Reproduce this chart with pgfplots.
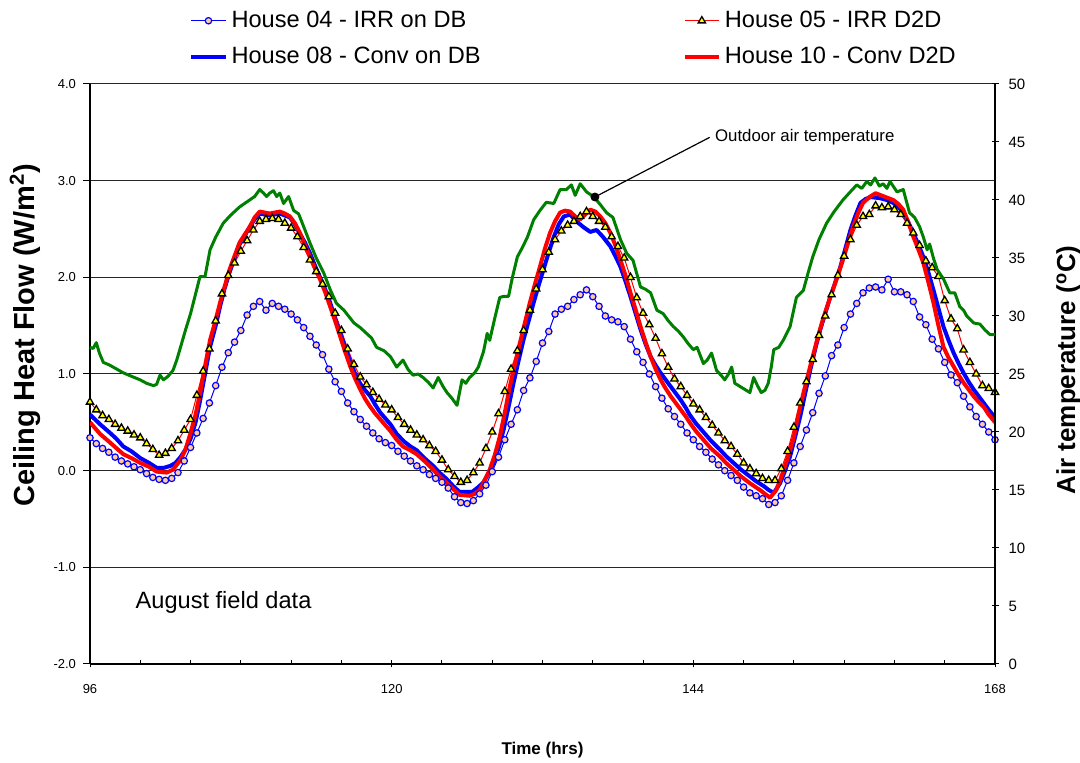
\documentclass[border=0pt]{standalone}
\usepackage{pgfplots}
\pgfplotsset{compat=1.18}
\usepackage{pgfplotstable}
\usepackage{fontspec}
\setmainfont{Liberation Sans}
\definecolor{hblue}{RGB}{0,0,255}
\definecolor{hred}{RGB}{255,0,0}
\definecolor{hgreen}{RGB}{0,128,0}
\definecolor{peach}{RGB}{255,204,153}
\definecolor{tyellow}{RGB}{255,255,0}

% House 04 (circles) and House 05 (triangles), half-hourly
\pgfplotstableread{
t h04 h05
96.0 0.34 0.71
96.5 0.28 0.63
97.0 0.23 0.57
97.5 0.19 0.53
98.0 0.14 0.48
98.5 0.10 0.44
99.0 0.07 0.41
99.5 0.04 0.37
100.0 0.01 0.34
100.5 -0.03 0.28
101.0 -0.07 0.22
101.5 -0.09 0.16
102.0 -0.10 0.18
102.5 -0.08 0.23
103.0 -0.02 0.31
103.5 0.10 0.42
104.0 0.24 0.53
104.5 0.39 0.78
105.0 0.54 1.03
105.5 0.70 1.26
106.0 0.88 1.55
106.5 1.07 1.83
107.0 1.22 2.02
107.5 1.33 2.15
108.0 1.45 2.27
108.5 1.61 2.38
109.0 1.70 2.49
109.5 1.75 2.58
110.0 1.66 2.60
110.5 1.73 2.61
111.0 1.70 2.60
111.5 1.67 2.56
112.0 1.62 2.51
112.5 1.56 2.42
113.0 1.48 2.31
113.5 1.39 2.18
114.0 1.30 2.06
114.5 1.20 1.93
115.0 1.05 1.80
115.5 0.92 1.63
116.0 0.82 1.45
116.5 0.70 1.26
117.0 0.61 1.10
117.5 0.53 0.97
118.0 0.46 0.89
118.5 0.39 0.81
119.0 0.33 0.74
119.5 0.29 0.68
120.0 0.26 0.63
120.5 0.20 0.55
121.0 0.15 0.48
121.5 0.10 0.42
122.0 0.05 0.37
122.5 0.01 0.32
123.0 -0.04 0.26
123.5 -0.08 0.20
124.0 -0.12 0.11
124.5 -0.18 0.01
125.0 -0.27 -0.06
125.5 -0.33 -0.12
126.0 -0.34 -0.10
126.5 -0.31 -0.02
127.0 -0.24 0.08
127.5 -0.15 0.23
128.0 -0.01 0.40
128.5 0.14 0.59
129.0 0.32 0.82
129.5 0.48 1.05
130.0 0.63 1.24
130.5 0.83 1.45
131.0 0.96 1.66
131.5 1.13 1.88
132.0 1.32 2.08
132.5 1.44 2.26
133.0 1.62 2.39
133.5 1.67 2.48
134.0 1.70 2.54
134.5 1.77 2.58
135.0 1.82 2.63
135.5 1.87 2.68
136.0 1.80 2.63
136.5 1.70 2.58
137.0 1.60 2.52
137.5 1.56 2.42
138.0 1.54 2.32
138.5 1.49 2.20
139.0 1.36 2.00
139.5 1.23 1.79
140.0 1.12 1.63
140.5 1.00 1.51
141.0 0.87 1.37
141.5 0.75 1.21
142.0 0.64 1.07
142.5 0.56 0.95
143.0 0.48 0.87
143.5 0.39 0.78
144.0 0.32 0.69
144.5 0.25 0.63
145.0 0.19 0.55
145.5 0.12 0.47
146.0 0.06 0.39
146.5 0.00 0.31
147.0 -0.05 0.25
147.5 -0.10 0.17
148.0 -0.17 0.08
148.5 -0.23 0.02
149.0 -0.26 -0.03
149.5 -0.29 -0.08
150.0 -0.35 -0.10
150.5 -0.33 -0.10
151.0 -0.26 0.02
151.5 -0.10 0.20
152.0 0.08 0.45
152.5 0.25 0.70
153.0 0.42 0.92
153.5 0.60 1.15
154.0 0.80 1.40
154.5 0.98 1.60
155.0 1.19 1.82
155.5 1.30 2.02
156.0 1.48 2.22
156.5 1.62 2.39
157.0 1.73 2.54
157.5 1.84 2.63
158.0 1.89 2.65
158.5 1.90 2.74
159.0 1.87 2.72
159.5 1.98 2.73
160.0 1.85 2.70
160.5 1.85 2.65
161.0 1.82 2.56
161.5 1.75 2.46
162.0 1.59 2.33
162.5 1.51 2.17
163.0 1.36 2.10
163.5 1.26 2.01
164.0 1.12 1.76
164.5 0.99 1.57
165.0 0.91 1.47
165.5 0.77 1.25
166.0 0.66 1.12
166.5 0.56 1.00
167.0 0.48 0.88
167.5 0.40 0.85
168.0 0.32 0.81
}\markdata

% House 08 - Conv on DB
\pgfplotstableread{
t v
96.0 0.58
96.8 0.48
97.6 0.39
98.1 0.33
98.65 0.25
99.3 0.20
100.0 0.13
100.7 0.08
101.3 0.03
101.9 0.03
102.4 0.05
102.8 0.08
103.2 0.14
103.6 0.22
104.0 0.33
104.4 0.50
104.75 0.72
105.15 1.00
105.55 1.28
106.0 1.50
106.35 1.70
106.7 1.88
107.1 2.05
107.5 2.20
107.9 2.34
108.3 2.43
108.7 2.52
109.1 2.60
109.5 2.66
110.3 2.64
111.1 2.66
111.5 2.64
111.9 2.62
112.3 2.55
112.7 2.45
113.1 2.36
113.5 2.25
113.9 2.12
114.3 2.00
114.7 1.88
115.1 1.74
115.5 1.57
115.9 1.42
116.3 1.28
116.7 1.13
117.1 1.00
117.5 0.90
117.9 0.83
118.3 0.77
118.7 0.68
119.1 0.60
119.5 0.54
119.9 0.48
120.4 0.38
121.0 0.30
121.5 0.25
122.0 0.21
122.6 0.13
123.3 0.05
123.8 -0.02
124.4 -0.09
124.9 -0.16
125.4 -0.22
126.4 -0.22
126.9 -0.17
127.3 -0.12
127.7 -0.03
128.1 0.08
128.5 0.23
128.9 0.42
129.3 0.66
129.7 0.91
130.1 1.14
130.5 1.36
130.9 1.55
131.3 1.74
131.7 1.92
132.1 2.09
132.5 2.26
132.9 2.42
133.3 2.55
133.7 2.63
134.2 2.65
134.7 2.58
135.25 2.52
135.8 2.47
136.3 2.49
136.8 2.42
137.4 2.32
137.8 2.22
138.2 2.11
138.6 1.96
139.0 1.80
139.4 1.63
139.8 1.46
140.2 1.31
140.6 1.18
141.0 1.09
141.4 1.01
141.8 0.94
142.2 0.87
142.6 0.80
143.0 0.73
143.4 0.65
143.7 0.58
144.2 0.49
144.8 0.40
145.4 0.31
146.1 0.22
146.6 0.15
147.2 0.08
147.8 0.01
148.5 -0.06
149.0 -0.11
149.6 -0.16
150.0 -0.20
150.4 -0.23
150.9 -0.13
151.3 0.00
151.7 0.15
152.1 0.35
152.5 0.56
152.9 0.80
153.3 1.04
153.7 1.26
154.1 1.46
154.5 1.63
154.9 1.80
155.3 1.95
155.7 2.11
156.1 2.30
156.5 2.49
156.9 2.64
157.3 2.77
157.7 2.81
158.1 2.83
158.8 2.82
159.4 2.80
159.9 2.77
160.3 2.73
160.7 2.67
161.1 2.57
161.5 2.46
161.9 2.34
162.3 2.21
162.7 2.05
163.1 1.87
163.5 1.68
163.9 1.49
164.3 1.35
164.7 1.22
165.1 1.11
165.5 1.01
165.9 0.92
166.3 0.84
166.7 0.77
167.1 0.70
167.5 0.63
168.0 0.55
}\height

% House 10 - Conv D2D
\pgfplotstableread{
t v
96.0 0.50
96.8 0.38
97.6 0.29
98.65 0.17
99.3 0.13
100.0 0.08
100.7 0.04
101.3 -0.01
102.1 -0.02
102.6 0.01
103.2 0.11
103.6 0.22
104.0 0.39
104.4 0.58
104.75 0.80
105.15 1.08
105.55 1.35
106.0 1.56
106.35 1.74
107.1 2.08
107.5 2.22
107.9 2.36
108.3 2.44
108.7 2.52
109.1 2.62
109.5 2.68
110.3 2.66
111.1 2.68
111.5 2.66
111.9 2.63
112.3 2.56
112.7 2.46
113.1 2.33
113.5 2.21
113.9 2.09
114.3 1.98
114.7 1.85
115.1 1.70
115.5 1.55
115.9 1.39
116.3 1.23
116.7 1.08
117.1 0.95
117.5 0.84
117.9 0.74
118.3 0.66
118.7 0.59
119.1 0.53
119.5 0.47
119.9 0.41
120.4 0.32
120.9 0.25
121.5 0.21
122.0 0.17
122.6 0.10
123.3 0.01
123.8 -0.06
124.4 -0.13
124.9 -0.19
125.4 -0.25
126.2 -0.26
126.6 -0.24
127.0 -0.20
127.4 -0.10
127.8 0.01
128.2 0.16
128.6 0.35
129.0 0.60
129.4 0.87
129.8 1.10
130.2 1.32
130.6 1.53
131.0 1.74
131.4 1.93
131.8 2.11
132.2 2.30
132.6 2.46
133.0 2.58
133.4 2.67
133.8 2.69
134.2 2.68
134.6 2.63
135.0 2.60
135.4 2.65
135.8 2.70
136.2 2.68
136.6 2.63
137.0 2.56
137.4 2.46
137.8 2.33
138.2 2.18
138.6 2.02
139.0 1.84
139.4 1.67
139.8 1.49
140.2 1.33
140.6 1.18
141.0 1.05
141.4 0.94
141.8 0.85
142.2 0.77
142.6 0.70
143.0 0.63
143.4 0.56
143.7 0.50
144.2 0.41
144.8 0.32
145.4 0.23
146.1 0.15
146.6 0.08
147.2 0.01
147.8 -0.06
148.5 -0.13
149.3 -0.20
149.7 -0.24
150.1 -0.28
150.6 -0.20
150.9 -0.10
151.2 0.01
151.6 0.17
152.0 0.35
152.3 0.55
152.7 0.77
153.1 0.98
153.5 1.18
153.9 1.38
154.3 1.56
154.7 1.72
155.1 1.87
155.5 2.02
155.9 2.18
156.3 2.35
156.7 2.52
157.1 2.66
157.5 2.77
158.0 2.83
158.5 2.87
159.1 2.84
159.5 2.82
159.9 2.80
160.3 2.76
160.7 2.70
161.1 2.57
161.5 2.42
161.9 2.29
162.3 2.15
162.7 1.95
163.1 1.74
163.5 1.50
163.9 1.28
164.3 1.17
164.7 1.08
165.1 0.99
165.5 0.91
165.9 0.84
166.3 0.77
166.7 0.71
167.1 0.66
167.5 0.58
168.0 0.50
}\hten

% Outdoor air temperature (right axis)
\pgfplotstableread{
t T
96.0 27.3
96.25 27.2
96.5 27.7
96.75 26.8
97.06 26.0
97.5 25.8
98.0 25.5
98.65 25.1
99.3 24.8
99.98 24.5
100.5 24.2
101.04 24.0
101.3 24.1
101.57 24.9
101.85 24.5
102.2 24.8
102.6 25.3
102.9 26.2
103.2 27.3
103.6 28.8
104.0 30.2
104.4 31.9
104.75 33.4
105.15 33.4
105.55 35.7
106.0 36.8
106.6 38.0
107.2 38.7
107.9 39.4
108.3 39.7
108.7 40.0
109.1 40.3
109.5 40.9
109.8 40.6
110.05 40.3
110.3 40.6
110.6 40.8
110.85 40.3
111.1 40.6
111.4 39.7
111.8 40.3
112.2 39.1
112.6 38.8
113.0 37.7
113.5 36.3
114.0 35.0
114.6 33.7
115.1 32.3
115.6 31.1
116.2 30.5
117.0 29.4
117.5 29.0
118.0 28.5
118.4 28.1
118.8 27.3
119.4 27.0
119.9 26.5
120.4 25.6
120.9 26.2
121.3 25.4
121.7 24.9
122.1 25.0
122.5 24.7
122.9 24.3
123.3 23.8
123.7 24.7
124.1 23.9
124.4 23.4
124.8 22.9
125.2 22.3
125.6 24.5
125.9 24.2
126.2 24.7
126.6 25.1
126.9 25.6
127.3 26.9
127.6 28.5
127.8 27.9
128.2 29.8
128.6 31.6
128.95 31.7
129.3 31.7
129.6 33.3
130.0 35.1
130.4 35.9
130.8 36.8
131.3 38.3
131.8 39.1
132.3 39.8
132.9 39.7
133.4 40.9
133.9 40.9
134.3 41.3
134.6 40.4
135.0 41.4
135.5 40.7
136.05 40.3
136.6 39.6
137.1 38.9
137.6 38.5
138.2 36.6
138.7 35.4
139.2 34.8
139.8 32.5
140.2 32.3
140.6 32.0
141.1 30.5
141.6 30.2
142.0 29.6
142.4 29.1
142.8 28.7
143.2 28.2
143.6 27.6
144.0 27.1
144.3 27.3
144.8 25.9
145.1 26.2
145.45 26.8
145.85 25.3
146.2 24.9
146.5 24.5
146.8 25.0
147.05 25.6
147.3 24.2
147.9 23.8
148.5 23.4
148.8 24.7
149.1 24.0
149.4 23.4
149.7 23.6
149.96 24.2
150.2 25.6
150.4 27.1
150.8 27.3
151.2 28.0
151.7 29.1
152.2 31.6
152.75 32.2
153.1 33.6
153.5 35.1
154.0 36.6
154.6 38.0
155.2 39.0
155.9 40.0
156.4 40.6
157.0 41.3
157.4 41.0
157.8 41.6
158.1 41.3
158.45 41.9
158.8 41.2
159.1 41.4
159.4 41.0
159.65 41.6
160.2 40.7
160.7 40.9
161.2 38.9
161.6 38.5
162.0 37.7
162.3 36.8
162.6 35.7
162.8 36.2
163.1 35.0
163.4 34.0
163.9 33.2
164.4 32.0
164.8 32.0
165.2 30.8
165.5 30.5
165.75 30.0
166.3 29.4
166.8 29.3
167.2 28.8
167.6 28.4
168.0 28.4
}\tout

\begin{document}
\begin{tikzpicture}
\useasboundingbox (-45pt,-49.5pt) rectangle (495pt,332pt);
\begin{axis}[
  scale only axis, width=452.5pt, height=290pt,
  xmin=96, xmax=168, ymin=-2, ymax=4,
  axis x line=bottom, axis y line=left,
  axis line style={-, line width=1pt, black},
  xtick={96,120,144,168}, xticklabels={96,120,144,168},
  extra x ticks={100,104,108,112,116,124,128,132,136,140,148,152,156,160,164},
  extra x tick labels={},
  extra x tick style={tick align=inside, major tick length=1.8pt},
  xtick align=center, ytick align=outside,
  major tick length=3.5pt,
  tick style={black, line width=0.5pt},
  ytick={-2,-1,0,1,2,3,4}, yticklabels={-2.0,-1.0,0.0,1.0,2.0,3.0,4.0},
  ymajorgrids, grid style={black!85, line width=0.5pt},
  yticklabel style={font=\fontsize{6.5}{7}\selectfont},
  xticklabel style={font=\fontsize{6.5}{7}\selectfont, yshift=-5pt},
  every axis y label/.style={at={(axis description cs:-0.0718,0.567)}, rotate=90, anchor=center},
  every axis x label/.style={at={(axis description cs:0.5,0)}, anchor=center, yshift=-43pt},
  ylabel={\fontsize{14.5}{16}\selectfont\bfseries Ceiling Heat Flow (W/m\textsuperscript{2})},
  xlabel={\fontsize{8.5}{10}\selectfont\bfseries Time (hrs)},
  legend columns=2,
  legend cell align=left,
  legend style={draw=none, fill=none, at={(axis description cs:0,1)}, anchor=west,
    xshift=46.5pt, yshift=22.5pt, font=\fontsize{11.8}{14}\selectfont,
    row sep=4.5pt,
    /tikz/every even column/.append style={column sep=99pt},
    /tikz/every odd column/.append style={column sep=0pt}},
]
\addplot[hblue, line width=0.5pt, mark=*, mark size=1.6pt,
  mark options={draw=hblue, fill=peach, line width=0.6pt}]
  table[x=t, y=h04] {\markdata};
\addlegendentry{House 04 - IRR on DB}
\addplot[hred, line width=0.5pt, mark=triangle*, mark size=2.1pt,
  mark options={draw=black, fill=tyellow, line width=0.65pt}]
  table[x=t, y=h05] {\markdata};
\addlegendentry{House 05 - IRR D2D}
\addplot[hblue, line width=2pt, line join=round] table[x=t, y=v] {\height};
\addlegendentry{House 08 - Conv on DB}
\addplot[hred, line width=2pt, line join=round] table[x=t, y=v] {\hten};
\addlegendentry{House 10 - Conv D2D}
\node[anchor=west, inner sep=0pt, font=\fontsize{11.8}{14}\selectfont] at (axis cs:99.6,-1.365) {August field data};
\end{axis}
\begin{axis}[
  scale only axis, width=452.5pt, height=290pt,
  xmin=96, xmax=168, ymin=0, ymax=50,
  axis x line=none, axis y line=right,
  axis line style={-, line width=1pt, black},
  ytick={0,5,10,15,20,25,30,35,40,45,50},
  yticklabels={0,5,10,15,20,25,30,35,40,45,50},
  ytick align=center, major tick length=3.5pt,
  tick style={black, line width=0.5pt},
  yticklabel style={font=\fontsize{7.5}{8}\selectfont, xshift=1.5pt},
  every axis y label/.style={at={(axis description cs:1.081,0.507)}, rotate=90, anchor=center},
  ylabel={\fontsize{13}{15}\selectfont\bfseries Air temperature (\textsuperscript{o}C)},
  clip=false,
]
\addplot[hgreen, line width=1.5pt, line join=round] table[x=t, y=T] {\tout};
\addplot[black, line width=0.6pt, forget plot] coordinates {(136.17,40.26) (145.3,45.4)};
\addplot[black, only marks, mark=*, mark size=2pt, forget plot] coordinates {(136.17,40.26)};
\node[anchor=west, inner sep=0pt, font=\fontsize{8.4}{10}\selectfont] at (axis cs:145.7,45.4) {Outdoor air temperature};
\end{axis}
\end{tikzpicture}
\end{document}
